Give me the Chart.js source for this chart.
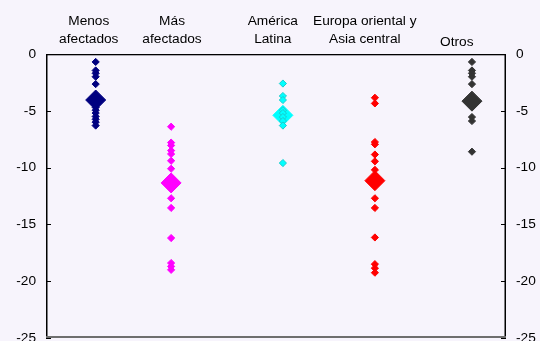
<!DOCTYPE html>
<html>
<head>
<meta charset="utf-8">
<script src="https://cdn.jsdelivr.net/npm/chart.js@4/dist/chart.umd.min.js"></script>
<style>
  html, body { margin: 0; padding: 0; background: #f7f4fc; overflow: hidden; }
  #wrap { width: 540px; height: 341px; position: relative; }
</style>
</head>
<body>
<div id="wrap"><canvas id="c"></canvas></div>
<script>
// Region groups shown along the top
const categorias = [
  ['Menos', 'afectados'],
  ['Más', 'afectados'],
  ['América', 'Latina'],
  ['Europa oriental y', 'Asia central'],
  ['Otros']
];
// Where each group's title sits on the 0-100 horizontal axis
const posEtiquetas = [9.3, 27.4, 49.3, 69.3, 89.3];
// Horizontal axis value of each group's column of points
const posGrupos = [10.8, 27.2, 51.5, 71.5, 92.6];

// Individual country values per group
const menosAfectados = [-0.7, -1.45, -1.7, -2.0, -2.65, -4.7, -4.95, -5.2, -5.5, -5.75, -6.0, -6.3];
const masAfectados = [-6.4, -7.8, -8.05, -8.5, -8.8, -9.4, -10.1, -12.7, -13.55, -16.2, -18.4, -18.7, -19.0];
const americaLatina = [-2.6, -3.7, -4.05, -4.95, -5.2, -5.55, -5.9, -6.3, -9.6];
const europaOriental = [-3.85, -4.35, -7.75, -7.95, -8.85, -9.45, -10.2, -12.7, -13.55, -16.15, -18.5, -18.85, -19.25];
const otros = [-0.7, -1.45, -1.7, -2.0, -2.65, -5.55, -5.9, -8.6];

// Group averages (large markers)
const promedios = [-4.05, -11.35, -5.4, -11.15, -4.15];

// Vertical axis ticks
const ticksY = [0, -5, -10, -15, -20, -25];

const grupos = [menosAfectados, masAfectados, americaLatina, europaOriental, otros];
const colores = ['#000080', '#ff00ff', '#00ffff', '#ff0000', '#333333'];
const bordesPequenos = ['#000080', '#ff00ff', '#19cccc', '#ff0000', '#333333'];

const datasets = [];
grupos.forEach((vals, i) => {
  datasets.push({
    label: 'g' + i,
    data: vals.map(v => ({ x: posGrupos[i], y: v })),
    pointStyle: 'rectRot',
    pointRadius: 3.6,
    pointBackgroundColor: colores[i],
    pointBorderColor: bordesPequenos[i],
    pointBorderWidth: 1,
    order: 0,
    xAxisID: 'x',
    yAxisID: 'y'
  });
  datasets.push({
    label: 'p' + i,
    data: [{ x: posGrupos[i], y: promedios[i] }],
    pointStyle: 'rectRot',
    pointRadius: 10,
    pointBackgroundColor: colores[i],
    pointBorderColor: colores[i],
    pointBorderWidth: 1,
    order: 1,
    xAxisID: 'x',
    yAxisID: 'y'
  });
});

const fuente = { family: "'Liberation Sans', Arial, sans-serif", size: 13.7 };

// Frame and inward tick marks
const marco = {
  id: 'marco',
  afterDraw(chart) {
    const { ctx, chartArea: { left, right, top, bottom } } = chart;
    const ys = chart.scales.y;
    ctx.save();
    ctx.fillStyle = '#000';
    ctx.fillRect(left, top, right - left, 1.3);
    ctx.fillRect(left, top, 1.5, bottom - top);
    ctx.fillRect(right - 1.5, top, 1.5, bottom - top);
    ys.ticks.forEach(t => {
      const y = Math.round(ys.getPixelForValue(t.value));
      ctx.fillRect(left, y, 5, 1);
      ctx.fillRect(right - 5, y, 5, 1);
    });
    ctx.fillStyle = '#6e6e6e';
    ctx.fillRect(left, bottom - 2, right - left, 2);
    ctx.restore();
  }
};

const ejeY = (pos) => ({
  type: 'linear',
  position: pos,
  min: -25,
  max: 0,
  afterBuildTicks: s => { s.ticks = ticksY.map(v => ({ value: v })); },
  afterFit: s => { s.width = 31; s.paddingTop = 0; s.paddingBottom = 0; },
  grid: { display: false, drawTicks: false },
  border: { display: false },
  ticks: { color: '#000', font: fuente, padding: 10 }
});

new Chart(document.getElementById('c'), {
  type: 'scatter',
  data: { datasets },
  plugins: [marco],
  options: {
    responsive: true,
    maintainAspectRatio: false,
    animation: false,
    layout: { autoPadding: false, padding: { left: 15, right: 3, top: 0, bottom: 3 } },
    plugins: { legend: { display: false }, tooltip: { enabled: false } },
    scales: {
      x: {
        type: 'linear',
        position: 'top',
        min: 0,
        max: 100,
        afterBuildTicks: s => { s.ticks = posEtiquetas.map(v => ({ value: v })); },
        afterFit: s => { s.height = 54; s.paddingLeft = 0; s.paddingRight = 0; },
        grid: { display: false, drawTicks: false },
        border: { display: false },
        ticks: {
          color: '#000',
          // single-line title sits a little lower than the two-line ones
          font: c => ({ ...fuente, lineHeight: categorias[c.index] && categorias[c.index].length === 1 ? 0.9 : 1.3 }),
          padding: 6,
          maxRotation: 0,
          autoSkip: false,
          callback: (v, i) => categorias[i]
        }
      },
      y: ejeY('left'),
      y2: ejeY('right')
    }
  }
});
</script>
</body>
</html>
